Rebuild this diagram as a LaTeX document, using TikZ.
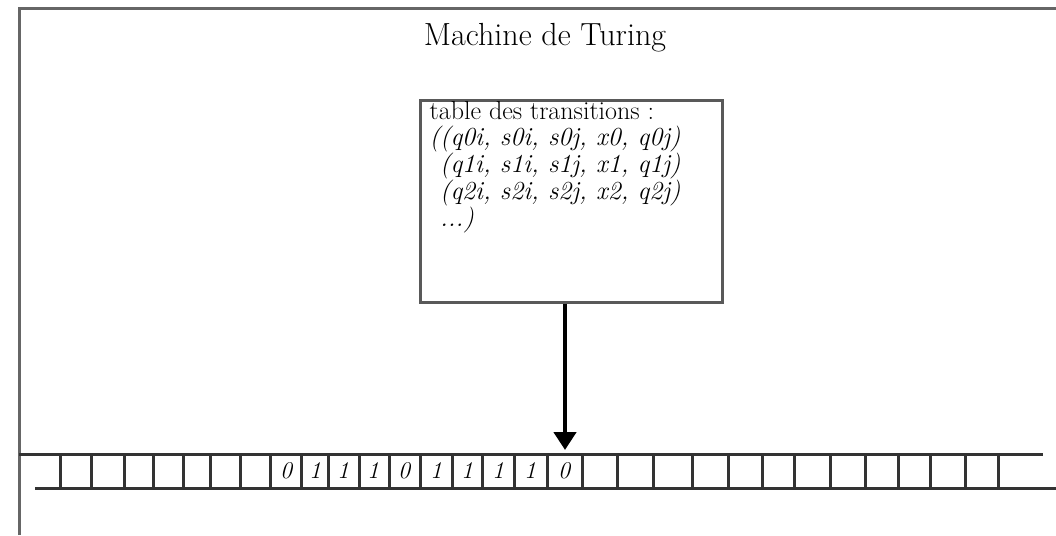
\documentclass[tikz,border=0pt]{standalone}
\usetikzlibrary{arrows.meta,positioning}

\tikzset{
    cadre/.style={line width=3pt, black!60},
    ruban/.style={line width=3pt, black!80},
    chiffre/.style={font=\fontsize{24}{24}\selectfont\itshape, inner sep=0pt},
}

\begin{document}
\begin{tikzpicture}[x=1pt,y=-1pt]
    \useasboundingbox (0,0) rectangle (1056,535);

    % Frame and title
    \draw[cadre] (19,535) -- (19,9) -- (1056,9);
    \node[font=\fontsize{32}{32}\selectfont] (titre) at (545,38) {Machine de Turing};

    % Transition table
    \node[draw=black!65, line width=3pt, minimum width=302pt, minimum height=202pt] (table) at (571,201) {};
    \node[anchor=north west, align=left, inner sep=0pt, font=\fontsize{26}{25.5}\selectfont]
        (regles) at ([shift={(11,3)}]table.north west)
        {table des transitions :\\
         \textit{((q0i, s0i, s0j, x0, q0j)}\\
         \textit{\phantom{(}(q1i, s1i, s1j, x1, q1j)}\\
         \textit{\phantom{(}(q2i, s2i, s2j, x2, q2j)}\\
         \textit{\phantom{(}...)}};

    % Tape
    \draw[ruban] (19,454) -- (1043,454);
    \draw[ruban] (35,488) -- (1056,488);
    \foreach \x in {60,91,124,153,183,210,240,270,301,328,359,389,420,452,482,514,547,582,617,653,692,728,762,794,830,865,898,930,965,998}
        \draw[ruban] (\x,454) -- (\x,488);
    \foreach \x/\d in {286/0,315/1,343/1,373/1,404/0,436/1,467/1,498/1,530/1,564/0}
        \node[chiffre] (case\x) at (\x,471) {\d};

    % Head
    \coordinate (tete) at (565,450);
    \draw[line width=4.5pt, -{Triangle[length=18pt,width=22pt]}] (table.south -| tete) -- (tete);

\end{tikzpicture}
\end{document}
